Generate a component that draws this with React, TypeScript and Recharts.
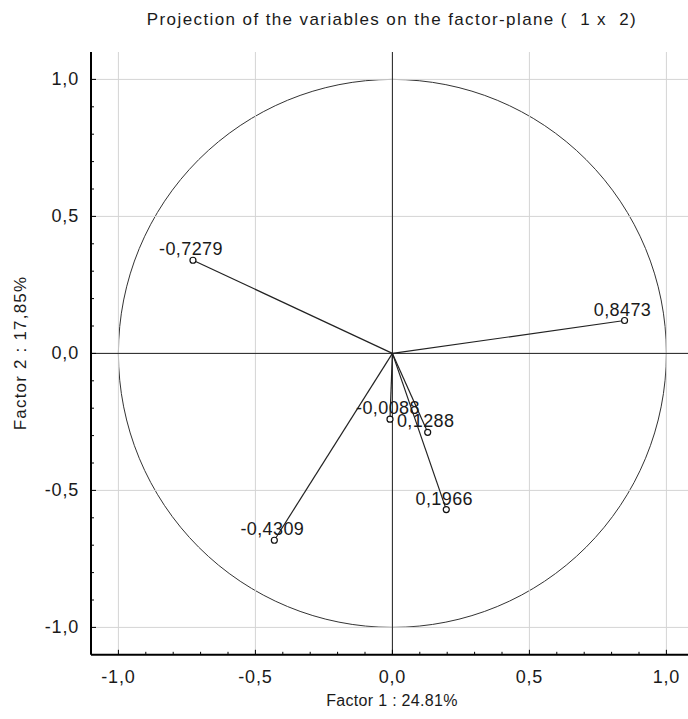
import React from "react";
import {
  ComposedChart,
  XAxis,
  YAxis,
  Scatter,
  ReferenceLine,
  ReferenceArea,
} from "recharts";

// factor loadings
const factor1 = [-0.7279, 0.8473, -0.0088, 0.1288, 0.1966, -0.4309];
const factor2 = [0.34, 0.12, -0.24, -0.288, -0.57, -0.682];
const pointLabels = ["-0,7279", "0,8473", "-0,0088", "0,1288", "0,1966", "-0,4309"];

const tickValues = [-1, -0.9, -0.8, -0.7, -0.6, -0.5, -0.4, -0.3, -0.2, -0.1, 0, 0.1, 0.2, 0.3, 0.4, 0.5, 0.6, 0.7, 0.8, 0.9, 1];
const majorTicks = [-1, -0.5, 0, 0.5, 1];

const points = factor1.map((x, i) => ({ x, y: factor2[i], label: pointLabels[i] }));

const FONT = "'Liberation Sans', Arial, sans-serif";
const TXT = "#1a1a1a";

const isMajor = (v: number) => majorTicks.some((m) => Math.abs(m - v) < 1e-6);
const fmt = (v: number) => v.toFixed(1).replace(".", ",");

const BottomTick = (props: any) => {
  const { x, y, payload } = props;
  const major = isMajor(payload.value);
  return (
    <g>
      <line x1={x} x2={x} y1={y} y2={y - (major ? 5 : 3)} stroke="#000" strokeWidth={1} />
      {major && (
        <text x={x} y={y + 28} textAnchor="middle" fontSize={18} letterSpacing={0.8} fontFamily={FONT} fill={TXT}>
          {fmt(payload.value)}
        </text>
      )}
    </g>
  );
};

const TopTick = (props: any) => {
  const { x, y, payload } = props;
  const major = isMajor(payload.value);
  return <line x1={x} x2={x} y1={y} y2={y + (major ? 5 : 3)} stroke="#000" strokeWidth={1} />;
};

const LeftTick = (props: any) => {
  const { x, y, payload } = props;
  const major = isMajor(payload.value);
  return (
    <g>
      <line x1={x} x2={x + (major ? 5 : 3)} y1={y} y2={y} stroke="#000" strokeWidth={1} />
      {major && (
        <text x={x - 12} y={y + 6} textAnchor="end" fontSize={18} letterSpacing={0.8} fontFamily={FONT} fill={TXT}>
          {fmt(payload.value)}
        </text>
      )}
    </g>
  );
};

const UnitCircle = (props: any) => {
  const { x, y, width, height } = props;
  return (
    <ellipse
      cx={x + width / 2}
      cy={y + height / 2}
      rx={width / 2}
      ry={height / 2}
      fill="none"
      stroke="#333"
      strokeWidth={1}
    />
  );
};

const Marker = (props: any) => {
  const { cx, cy, payload } = props;
  return (
    <g>
      <circle cx={cx} cy={cy} r={3} fill="#fff" stroke="#111" strokeWidth={1.2} />
      <text x={cx - 2} y={cy - 5} textAnchor="middle" fontSize={18} letterSpacing={0.4} fontFamily={FONT} fill={TXT}>
        {payload.label}
      </text>
    </g>
  );
};

export default function App() {
  return (
    <div style={{ position: "absolute", left: 0, top: 0, width: 688, height: 719, overflow: "hidden", background: "#fff" }}>
      <ComposedChart
        width={700}
        height={719}
        margin={{ top: 52, right: 6.2, left: 31, bottom: 34.2 }}
      >
        <XAxis
          xAxisId="b"
          type="number"
          dataKey="x"
          domain={[-1.1, 1.1]}
          ticks={tickValues}
          interval={0}
          height={30}
          tickSize={0}
          tickMargin={0}
          tickLine={false}
          axisLine={{ stroke: "#000", strokeWidth: 2 }}
          tick={<BottomTick />}
          allowDataOverflow
        />
        <XAxis
          xAxisId="t"
          orientation="top"
          type="number"
          dataKey="x"
          domain={[-1.1, 1.1]}
          ticks={tickValues}
          interval={0}
          height={0}
          tickSize={0}
          tickMargin={0}
          tickLine={false}
          axisLine={{ stroke: "#000", strokeWidth: 2 }}
          tick={<TopTick />}
          allowDataOverflow
        />
        <YAxis
          yAxisId="l"
          type="number"
          dataKey="y"
          domain={[-1.1, 1.1]}
          ticks={tickValues}
          interval={0}
          width={60}
          tickSize={0}
          tickMargin={0}
          tickLine={false}
          axisLine={{ stroke: "#000", strokeWidth: 2 }}
          tick={<LeftTick />}
          allowDataOverflow
        />

        {majorTicks.map((v) => (
          <ReferenceLine key={"gx" + v} xAxisId="b" yAxisId="l" x={v} stroke="#d4d4d4" strokeWidth={1} />
        ))}
        {majorTicks.map((v) => (
          <ReferenceLine key={"gy" + v} xAxisId="b" yAxisId="l" y={v} stroke="#d4d4d4" strokeWidth={1} />
        ))}
        <ReferenceLine xAxisId="b" yAxisId="l" x={0} stroke="#222" strokeWidth={1} />
        <ReferenceLine xAxisId="b" yAxisId="l" y={0} stroke="#222" strokeWidth={1} />

        <ReferenceArea
          xAxisId="b"
          yAxisId="l"
          x1={-1}
          x2={1}
          y1={-1}
          y2={1}
          shape={<UnitCircle />}
        />

        {points.map((p, i) => (
          <ReferenceLine
            key={"v" + i}
            xAxisId="b"
            yAxisId="l"
            segment={[{ x: 0, y: 0 }, { x: p.x, y: p.y }]}
            stroke="#222"
            strokeWidth={1.2}
          />
        ))}

        <Scatter
          xAxisId="b"
          yAxisId="l"
          data={points}
          dataKey="y"
          shape={<Marker />}
          isAnimationActive={false}
        />

        <text
          x={392}
          y={25}
          textAnchor="middle"
          fontSize={17}
          letterSpacing={1.4}
          fontFamily={FONT}
          fill={TXT}
          style={{ whiteSpace: "pre" }}
        >
          {"Projection of the variables on the factor-plane (  1 x  2)"}
        </text>
        <text x={392} y={706} textAnchor="middle" fontSize={16} letterSpacing={0.3} fontFamily={FONT} fill={TXT}>
          Factor 1 : 24.81%
        </text>
        <text
          x={26}
          y={353}
          textAnchor="middle"
          fontSize={17}
          letterSpacing={1.2}
          fontFamily={FONT}
          fill={TXT}
          transform="rotate(-90 26 353)"
        >
          Factor 2 : 17,85%
        </text>
      </ComposedChart>
    </div>
  );
}
